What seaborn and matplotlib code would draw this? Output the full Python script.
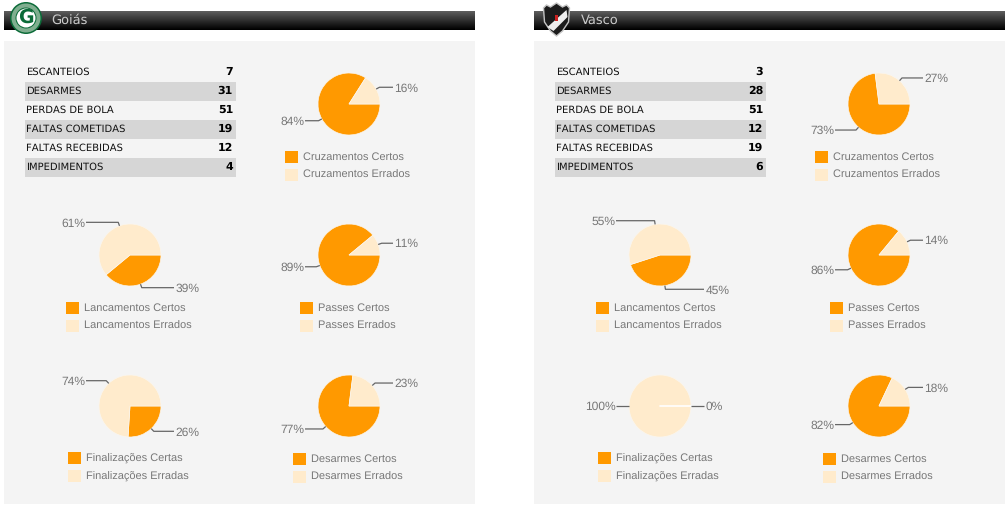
import math
import numpy as np
import matplotlib
matplotlib.use("Agg")
import matplotlib.pyplot as plt
from matplotlib.patches import Rectangle, Circle, Polygon
import seaborn as sns

# Data
stat_names = ["ESCANTEIOS", "DESARMES", "PERDAS DE BOLA", "FALTAS COMETIDAS", "FALTAS RECEBIDAS", "IMPEDIMENTOS"]
goias_stats = [7, 31, 51, 19, 12, 4]
vasco_stats = [3, 28, 51, 12, 19, 6]

pie_names = ["Cruzamentos", "Lancamentos", "Passes", "Finalizações", "Desarmes"]
goias_certos = [84, 39, 89, 26, 77]
goias_errados = [16, 61, 11, 74, 23]
vasco_certos = [73, 45, 86, 0, 82]
vasco_errados = [27, 55, 14, 100, 18]

# layout of each pie inside a panel: centre x, centre y, legend square x, legend y
pie_layout = [
    (349, 104, 285, 157),
    (130, 255, 66, 308),
    (349, 255, 300, 308),
    (130, 406, 68, 458),
    (349, 406, 293, 459),
]

sns.set_theme(style="white")
plt.rcParams["text.hinting"] = "no_hinting"
plt.rcParams["text.hinting_factor"] = 1
colors = sns.color_palette(["#ff9900", "#ffebcc"])
H = 513
RADIUS = 31

fig = plt.figure(figsize=(10.08, 5.13), dpi=100)
ax = fig.add_axes([0, 0, 1, 1])


def Y(py):
    return H - py


def draw_pie(cx, cy, certo, errado):
    ax.pie([certo, errado], colors=colors, center=(cx, Y(cy)), radius=RADIUS,
           startangle=0, counterclock=False, wedgeprops={"linewidth": 0.5, "edgecolor": "#fbf6ee"})
    if certo == 0:
        ax.plot([cx, cx + RADIUS], [Y(cy)] * 2, color="white", lw=1.2, zorder=4)
    # leader lines and labels
    certo_mid = certo / 200 * 2 * math.pi
    errado_mid = (certo + errado / 2) / 100 * 2 * math.pi
    for value, angle in [(certo, certo_mid), (errado, errado_mid)]:
        cos_a, sin_a = math.cos(angle), math.sin(angle)
        if value == 100:
            cos_a, sin_a = -1, 0
        side = 1 if cos_a >= 0 else -1
        px, py = cx + RADIUS * cos_a, cy + RADIUS * sin_a
        ex, ey = cx + RADIUS * 1.12 * cos_a, cy + RADIUS * 1.12 * sin_a
        ax.plot([px, ex, cx + side * 44], [Y(py), Y(ey), Y(ey)],
                color="#666666", lw=0.9, zorder=5, solid_capstyle="butt")
        ax.text(cx + side * 45.5 if side > 0 else cx - 44.5, Y(ey + 1), f"{value}%",
                ha="left" if side > 0 else "right", va="center", fontsize=8.4,
                color="#777777", family="Liberation Sans")


def draw_legend(name, lx, ly):
    ending = "Certas" if name == "Finalizações" else "Certos"
    ending2 = "Erradas" if name == "Finalizações" else "Errados"
    for k, label in enumerate([f"{name} {ending}", f"{name} {ending2}"]):
        y = ly + k * 18
        ax.add_patch(Rectangle((lx, Y(y + 6)), 13, 12.5, color=colors[k], lw=0))
        ax.text(lx + 18, Y(y + 0.5), label, va="center", fontsize=8.25,
                color="#777777", family="Liberation Sans")


def draw_logo(x0, team):
    if team == "Goiás":
        cx, cy = x0 + 22, 18
        ax.add_patch(Circle((cx, Y(cy)), 16, color="#0b6b38", lw=0, zorder=6))
        ax.add_patch(Circle((cx, Y(cy)), 14.5, color="#7fae8f", lw=0, zorder=6))
        ax.add_patch(Circle((cx, Y(cy)), 10.5, color="#0b6b38", lw=0, zorder=6))
        ax.add_patch(Circle((cx, Y(cy)), 9.5, color="white", lw=0, zorder=6))
        ax.text(cx, Y(cy - 0.5), "G", ha="center", va="center", fontsize=14, fontweight="bold",
                color="#0b6b38", zorder=7)
    else:
        cx = x0 + 22.5
        shield = [(cx - 10, Y(5)), (cx - 6, Y(7)), (cx, Y(3)), (cx + 6, Y(7)), (cx + 10, Y(5)),
                  (cx + 13, Y(8)), (cx + 12, Y(22)), (cx + 6, Y(31)), (cx, Y(36)),
                  (cx - 6, Y(31)), (cx - 12, Y(22)), (cx - 13, Y(8))]
        ax.add_patch(Polygon(shield, closed=True, fc="#1c1c1c", ec="#c4c4c4", lw=1, zorder=6))
        ax.add_patch(Polygon([(cx - 9, Y(27)), (cx + 10, Y(10)), (cx + 11, Y(17)), (cx - 3, Y(31))],
                             closed=True, fc="#eeeeee", lw=0, zorder=7))
        ax.add_patch(Rectangle((cx - 1.5, Y(21)), 3, 6, color="#cc2222", lw=0, zorder=8))


def draw_panel(x0, team, stats, certos, errados):
    # header bar with gradient
    grad = np.linspace(0.36, 0.0, 19).reshape(-1, 1)
    ax.imshow(grad, extent=(x0, x0 + 471, Y(30), Y(11)), cmap="gray", vmin=0, vmax=1,
              aspect="auto", zorder=1)
    ax.text(x0 + 47, Y(20.5), team, va="center", fontsize=9.3, color="#cccccc", zorder=2)
    draw_logo(x0, team)
    ax.add_patch(Rectangle((x0, Y(504)), 471, 463, color="#f4f4f4", lw=0, zorder=0))

    # stats table
    for i, (name, val) in enumerate(zip(stat_names, stats)):
        y = 72 + i * 19
        if i % 2 == 1:
            ax.add_patch(Rectangle((x0 + 21, Y(y + 9.5)), 211, 19, color="#d6d6d6", lw=0, zorder=1))
        ax.text(x0 + 22.5, Y(y), name, va="center", fontsize=7.2, color="#111111", zorder=2)
        ax.text(x0 + 229, Y(y), str(val), va="center", ha="right", fontsize=7.6,
                fontweight="bold", color="black", zorder=2)

    for name, certo, errado, (cx, cy, lx, ly) in zip(pie_names, certos, errados, pie_layout):
        offset = x0 - 4
        draw_pie(cx + offset, cy, certo, errado)
        draw_legend(name, lx + offset, ly)


draw_panel(4, "Goiás", goias_stats, goias_certos, goias_errados)
draw_panel(534, "Vasco", vasco_stats, vasco_certos, vasco_errados)

ax.set_xlim(0, 1008)
ax.set_ylim(0, H)
ax.set_aspect("auto")
ax.axis("off")
fig.savefig("out.png", dpi=100, facecolor="white")
